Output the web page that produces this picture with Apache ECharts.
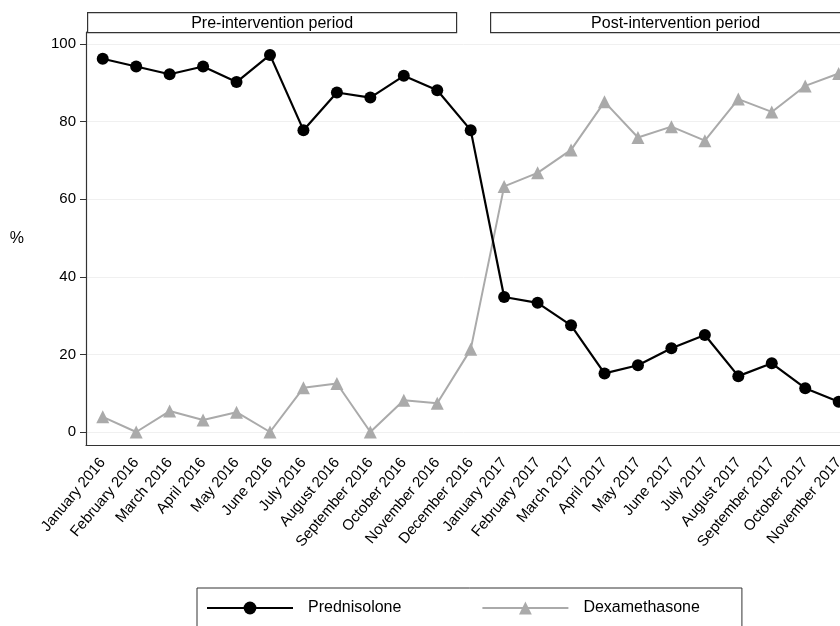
<!DOCTYPE html>
<html>
<head>
<meta charset="utf-8">
<script src="https://cdn.jsdelivr.net/npm/echarts@6/dist/echarts.min.js"></script>
<style>
html,body{margin:0;padding:0;background:#fff;}
#chart{width:840px;height:626px;}
</style>
</head>
<body>
<div id="chart"></div>
<script>
const months = ['January 2016','February 2016','March 2016','April 2016','May 2016','June 2016','July 2016','August 2016','September 2016','October 2016','November 2016','December 2016','January 2017','February 2017','March 2017','April 2017','May 2017','June 2017','July 2017','August 2017','September 2017','October 2017','November 2017'];
const prednisolone = [96.2,94.2,92.2,94.2,90.2,97.2,77.8,87.5,86.2,91.8,88.1,77.8,34.8,33.3,27.5,15.1,17.2,21.6,25.0,14.4,17.7,11.3,7.8];
const dexamethasone = [3.9,0,5.4,3.1,5.1,0,11.4,12.5,0,8.2,7.4,21.3,63.3,66.8,72.7,85.1,75.9,78.7,75.1,85.8,82.5,89.2,92.4];
const yTicks = [0,20,40,60,80,100];
const periodLabels = ['Pre-intervention period','Post-intervention period'];

const font = 'Liberation Sans, Arial, Helvetica, sans-serif';
const chart = echarts.init(document.getElementById('chart'));
chart.setOption({
  animation:false,
  backgroundColor:'#fff',
  grid:{left:86, top:32, width:769.4, height:413, outerBoundsMode:'none', containLabel:false},
  legend:{
    left:197, top:588,
    padding:[12,42,30,9],
    borderColor:'#333', borderWidth:1, borderRadius:0,
    itemWidth:86, itemHeight:16, itemGap:80,
    textStyle:{fontFamily:font, fontSize:16, color:'#000', padding:[0,0,0,10]},
    data:['Prednisolone','Dexamethasone']
  },
  xAxis:{
    type:'category', data:months, boundaryGap:true,
    axisLine:{onZero:false, lineStyle:{color:'#333',width:1.2}},
    axisTick:{alignWithLabel:true, length:7, lineStyle:{color:'#333'}},
    axisLabel:{rotate:50, interval:0, margin:15, fontFamily:font, fontSize:15, color:'#000'},
    splitLine:{show:false}
  },
  yAxis:{
    type:'value', min:-3.35, max:103.1,
    name:'%', nameLocation:'middle', nameRotate:0, nameGap:62,
    nameTextStyle:{fontFamily:font, fontSize:16, color:'#000'},
    axisLine:{show:true, lineStyle:{color:'#333',width:1.2}},
    axisTick:{show:true, length:6, customValues:yTicks, lineStyle:{color:'#333'}},
    axisLabel:{customValues:yTicks, margin:10, fontFamily:font, fontSize:15, color:'#000'},
    splitLine:{show:true, lineStyle:{color:'#f0f0f0', width:1}}
  },
  graphic:[
    {type:'group', left:87, top:12, children:[
      {type:'rect', shape:{x:0,y:0,width:369,height:20}, style:{fill:'#fff', stroke:'#333', lineWidth:1.2}},
      {type:'text', x:184.5, y:11, style:{text:periodLabels[0], align:'center', verticalAlign:'middle', font:'16px '+font, fill:'#000'}}
    ]},
    {type:'group', left:490, top:12, children:[
      {type:'rect', shape:{x:0,y:0,width:370,height:20}, style:{fill:'#fff', stroke:'#333', lineWidth:1.2}},
      {type:'text', x:185, y:11, style:{text:periodLabels[1], align:'center', verticalAlign:'middle', font:'16px '+font, fill:'#000'}}
    ]}
  ],
  series:[
    {name:'Prednisolone', type:'line', data:prednisolone, z:3,
     symbol:'circle', symbolSize:12,
     lineStyle:{color:'#000', width:2.2},
     itemStyle:{color:'#000'}},
    {name:'Dexamethasone', type:'line', data:dexamethasone, z:2,
     symbol:'triangle', symbolSize:13,
     lineStyle:{color:'#aaaaaa', width:2},
     itemStyle:{color:'#aaaaaa'}}
  ]
});
</script>
</body>
</html>
